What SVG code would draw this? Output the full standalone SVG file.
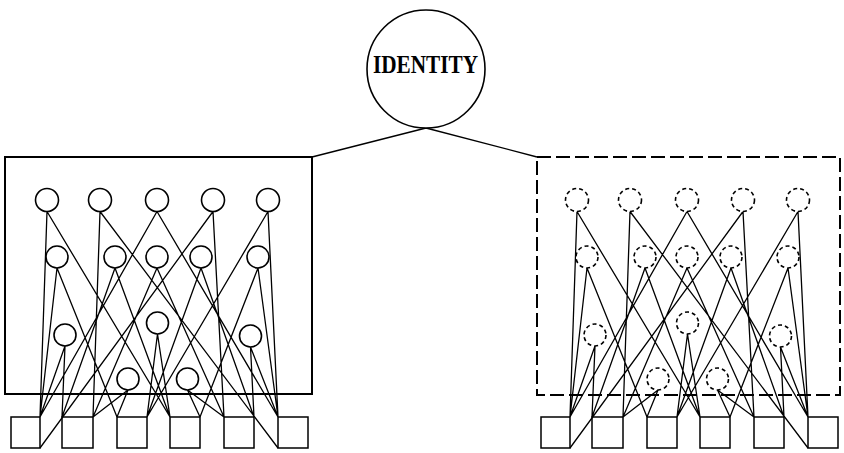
<svg xmlns="http://www.w3.org/2000/svg" width="844" height="453" viewBox="0 0 844 453">
<style>
.frame{fill:none;stroke:#000;stroke-width:2}
.dframe{fill:none;stroke:#000;stroke-width:2;stroke-dasharray:14 5}
.n{fill:#fff;stroke:#000;stroke-width:1.6}
.dn{fill:#fff;stroke:#000;stroke-width:1.6;stroke-dasharray:4 3}
.box{fill:#fff;stroke:#000;stroke-width:1.5}
.c{fill:none;stroke:#000;stroke-width:1.3}
.lbl{font-family:"Liberation Serif",serif;font-size:25px;font-weight:bold;fill:#000}
</style>
<rect width="844" height="453" fill="#fff"/>
<g id="frames">
<rect class="frame" x="5" y="157" width="307" height="237"/>
<rect class="dframe" x="537" y="157" width="303" height="238"/>
</g>
<g id="boxes-left">
<rect id="L-box1" class="box" x="11" y="417" width="29" height="31"/>
<rect id="L-box2" class="box" x="62" y="417" width="31" height="31"/>
<rect id="L-box3" class="box" x="117" y="417" width="30" height="31"/>
<rect id="L-box4" class="box" x="170" y="417" width="30" height="31"/>
<rect id="L-box5" class="box" x="224" y="417" width="30" height="31"/>
<rect id="L-box6" class="box" x="278" y="417" width="30" height="31"/>
</g>
<g id="boxes-right" transform="translate(530,0)">
<rect id="R-box1" class="box" x="11" y="417" width="29" height="31"/>
<rect id="R-box2" class="box" x="62" y="417" width="31" height="31"/>
<rect id="R-box3" class="box" x="117" y="417" width="30" height="31"/>
<rect id="R-box4" class="box" x="170" y="417" width="30" height="31"/>
<rect id="R-box5" class="box" x="224" y="417" width="30" height="31"/>
<rect id="R-box6" class="box" x="278" y="417" width="30" height="31"/>
</g>
<g id="connectors">
<path class="c" d="M426 128 L312 157 M426 128 L537 157"/>
<g id="connectors-left">
<path class="c" d="M47 211.5 L40 417 M47 211.5 L170 417
M100 211.5 L93 417 M100 211.5 L278 448
M157 211.5 L40 417 M157 211.5 L278 417
M213 211.5 L40 448 M213 211.5 L224 417
M268 211.5 L147 417 M268 211.5 L278 417
M57 268 L40 417 M57 268 L117 417
M115 268 L62 417 M115 268 L170 417
M157 268 L93 417 M157 268 L224 417
M201 268 L147 417 M201 268 L254 417
M258 268 L200 417 M258 268 L278 417
M65 346 L40 417 M65 346 L62 417
M157.5 334 L147 417 M157.5 334 L170 417
M250.5 347 L254 417 M250.5 347 L278 417
M128 390 L93 417 M128 390 L117 417
M187.5 390 L200 417 M187.5 390 L224 417"/>
</g>
<g id="connectors-right" transform="translate(530,0)">
<path class="c" d="M47 211.5 L40 417 M47 211.5 L170 417
M100 211.5 L93 417 M100 211.5 L278 448
M157 211.5 L40 417 M157 211.5 L278 417
M213 211.5 L40 448 M213 211.5 L224 417
M268 211.5 L147 417 M268 211.5 L278 417
M57 268 L40 417 M57 268 L117 417
M115 268 L62 417 M115 268 L170 417
M157 268 L93 417 M157 268 L224 417
M201 268 L147 417 M201 268 L254 417
M258 268 L200 417 M258 268 L278 417
M65 346 L40 417 M65 346 L62 417
M157.5 334 L147 417 M157.5 334 L170 417
M250.5 347 L254 417 M250.5 347 L278 417
M128 390 L93 417 M128 390 L117 417
M187.5 390 L200 417 M187.5 390 L224 417"/>
</g>
</g>
<g id="identity">
<circle class="n" cx="426" cy="69" r="59"/>
<text class="lbl" x="425.5" y="73" text-anchor="middle" textLength="105" lengthAdjust="spacingAndGlyphs">IDENTITY</text>
</g>
<g id="nodes-left">
<circle id="L-a1" class="n" cx="47" cy="200" r="11.5"/>
<circle id="L-a2" class="n" cx="100" cy="200" r="11.5"/>
<circle id="L-a3" class="n" cx="157" cy="200" r="11.5"/>
<circle id="L-a4" class="n" cx="213" cy="200" r="11.5"/>
<circle id="L-a5" class="n" cx="268" cy="200" r="11.5"/>
<circle id="L-b1" class="n" cx="57" cy="257" r="11"/>
<circle id="L-b2" class="n" cx="115" cy="257" r="11"/>
<circle id="L-b3" class="n" cx="157" cy="257" r="11"/>
<circle id="L-b4" class="n" cx="201" cy="257" r="11"/>
<circle id="L-b5" class="n" cx="258" cy="257" r="11"/>
<circle id="L-c1" class="n" cx="65" cy="335" r="11"/>
<circle id="L-c2" class="n" cx="157.5" cy="323" r="11"/>
<circle id="L-c3" class="n" cx="250.5" cy="336" r="11"/>
<circle id="L-d1" class="n" cx="128" cy="379" r="11"/>
<circle id="L-d2" class="n" cx="187.5" cy="379" r="11"/>
</g>
<g id="nodes-right" transform="translate(530,0)">
<circle id="R-a1" class="dn" cx="47" cy="200" r="11.5"/>
<circle id="R-a2" class="dn" cx="100" cy="200" r="11.5"/>
<circle id="R-a3" class="dn" cx="157" cy="200" r="11.5"/>
<circle id="R-a4" class="dn" cx="213" cy="200" r="11.5"/>
<circle id="R-a5" class="dn" cx="268" cy="200" r="11.5"/>
<circle id="R-b1" class="dn" cx="57" cy="257" r="11"/>
<circle id="R-b2" class="dn" cx="115" cy="257" r="11"/>
<circle id="R-b3" class="dn" cx="157" cy="257" r="11"/>
<circle id="R-b4" class="dn" cx="201" cy="257" r="11"/>
<circle id="R-b5" class="dn" cx="258" cy="257" r="11"/>
<circle id="R-c1" class="dn" cx="65" cy="335" r="11"/>
<circle id="R-c2" class="dn" cx="157.5" cy="323" r="11"/>
<circle id="R-c3" class="dn" cx="250.5" cy="336" r="11"/>
<circle id="R-d1" class="dn" cx="128" cy="379" r="11"/>
<circle id="R-d2" class="dn" cx="187.5" cy="379" r="11"/>
</g>
</svg>
